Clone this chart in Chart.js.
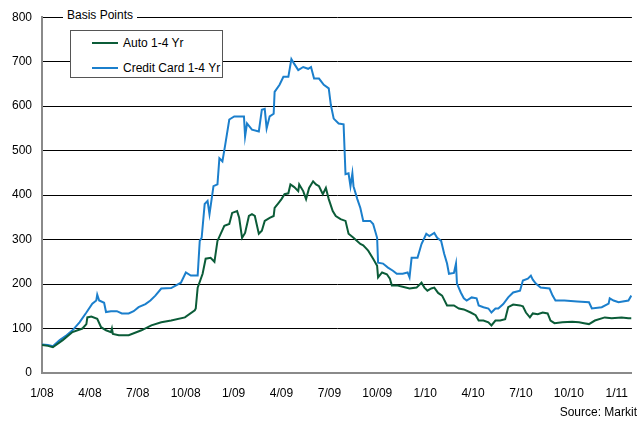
<!DOCTYPE html>
<html>
<head>
<meta charset="utf-8">
<script src="https://cdn.jsdelivr.net/npm/chart.js@4/dist/chart.umd.min.js"></script>
<style>
  body { margin: 0; background: #fff; font-family: "Liberation Sans", Arial, sans-serif; }
  #wrap { position: relative; width: 641px; height: 425px; }
  #unit { position: absolute; left: 63px; top: 7px; background: #fff; padding: 0 4px; font-size: 12px; color: #000; line-height: 16px; }
  #legend { position: absolute; left: 70px; top: 30px; width: 153px; height: 48px; border: 1px solid #555; background: #fff; box-sizing: border-box; font-size: 12px; }
  .row { position: absolute; left: 21px; height: 14px; line-height: 14px; white-space: nowrap; }
  .row i { display: inline-block; width: 26px; height: 2px; vertical-align: middle; margin-right: 5px; position: relative; top: -1px; }
  #source { position: absolute; right: 4px; top: 405px; font-size: 12px; color: #000; }
</style>
</head>
<body>
<div id="wrap">
  <canvas id="chart" width="641" height="425"></canvas>
  <div id="unit">Basis Points</div>
  <div id="legend">
    <div class="row" style="top:5px"><i style="background:#0b5c38"></i>Auto 1-4 Yr</div>
    <div class="row" style="top:30px"><i style="background:#1b7fcc"></i>Credit Card 1-4 Yr</div>
  </div>
  <div id="source">Source: Markit</div>
</div>
<script>
// months since Jan 2008
const tickMonths = [0, 3, 6, 9, 12, 15, 18, 21, 24, 27, 30, 33, 36];
const tickLabels = ['1/08','4/08','7/08','10/08','1/09','4/09','7/09','10/09','1/10','4/10','7/10','10/10','1/11'];

// Auto 1-4 Yr
const autoMonths = [0,0.37,0.68,1.3,1.91,2.53,2.78,2.84,3.09,3.46,3.7,4.01,4.32,4.38,4.44,4.81,5.43,6.23,6.85,7.47,8.09,8.95,9.57,9.63,9.75,10.06,10.25,10.56,10.8,10.99,11.42,11.73,11.91,12.22,12.35,12.53,12.72,12.96,13.15,13.33,13.58,13.77,13.95,14.26,14.51,14.57,14.81,15,15.19,15.43,15.56,15.8,16.05,16.11,16.36,16.54,16.73,16.98,17.16,17.35,17.59,17.78,17.96,18.21,18.4,18.7,19.01,19.2,19.51,19.94,20.12,20.43,20.74,20.99,21.05,21.3,21.6,21.79,21.91,22.22,22.59,23.02,23.46,23.77,23.95,24.14,24.38,24.57,24.81,25.06,25.37,25.8,26.11,26.42,26.85,27.16,27.35,27.65,27.96,28.15,28.4,28.7,29.01,29.2,29.51,29.94,30.12,30.31,30.56,30.74,31.05,31.36,31.67,31.85,32.1,32.59,33.21,33.64,33.95,34.26,34.63,35.25,35.68,36.3,36.73,36.91];
const autoValues = [63,61,58,74,92,100,110,125,127,122,103,96,92,100,88,85,85,96,107,114,118,125,141,145,192,223,257,259,250,297,331,335,360,364,349,304,315,353,357,353,313,320,342,349,353,371,382,391,402,404,424,418,409,424,409,391,416,431,424,420,402,416,391,364,353,346,342,313,304,290,287,275,257,241,215,226,222,212,197,197,194,190,192,203,192,185,190,192,180,174,152,152,145,143,136,130,118,118,114,107,118,118,121,148,154,152,150,136,125,134,132,136,134,118,112,114,115,114,112,110,118,125,123,125,123,123];

// Credit Card 1-4 Yr
const cardMonths = [0,0.37,0.68,1.11,1.54,1.91,2.35,2.78,3.15,3.4,3.46,3.58,3.89,4.01,4.32,4.69,5,5.43,5.74,6.05,6.48,6.79,7.1,7.47,8.09,8.7,9.01,9.32,9.75,9.88,10,10.19,10.37,10.49,10.6,10.74,10.99,11.11,11.3,11.48,11.73,12.04,12.41,12.65,12.72,12.84,13.15,13.58,13.77,13.95,14.07,14.26,14.51,14.57,14.88,15.12,15.43,15.62,15.8,16.05,16.36,16.67,16.85,17.04,17.35,17.65,17.96,18.09,18.27,18.58,18.89,19.01,19.2,19.32,19.44,19.51,19.75,19.94,20.12,20.56,20.74,20.99,21.05,21.36,21.67,21.98,22.22,22.59,22.9,23.02,23.15,23.52,23.77,24.07,24.26,24.57,24.75,25,25.19,25.37,25.49,25.8,25.93,25.99,26.23,26.42,26.6,26.91,27.22,27.35,27.65,27.96,28.15,28.4,28.58,28.89,29.2,29.51,29.94,30.12,30.43,30.62,30.74,30.93,31.23,31.79,31.98,32.16,32.72,33.52,34.26,34.44,35.06,35.49,35.56,35.8,36.11,36.73,36.91];
const cardValues = [64,63,60,74,85,96,114,136,156,163,176,163,158,137,139,139,134,134,139,148,155,163,174,190,191,203,226,219,219,297,304,380,387,357,385,420,424,483,476,514,570,577,577,577,532,561,547,543,592,594,550,577,583,632,648,666,666,706,695,681,688,684,688,662,662,648,640,603,572,561,559,447,449,420,449,420,391,371,342,342,335,304,248,246,237,230,223,223,226,215,259,259,290,313,308,315,304,297,268,246,223,225,246,201,181,168,163,170,168,152,148,145,136,145,145,155,170,181,185,208,212,219,210,201,192,190,174,163,163,161,159,145,148,156,168,163,159,163,174];

const toPoints = (xs, ys) => xs.map((x, i) => ({ x: x, y: ys[i] }));

new Chart(document.getElementById('chart'), {
  type: 'line',
  data: {
    datasets: [
      {
        label: 'Auto 1-4 Yr',
        data: toPoints(autoMonths, autoValues),
        borderColor: '#0b5c38',
        borderWidth: 2,
        pointRadius: 0,
        tension: 0
      },
      {
        label: 'Credit Card 1-4 Yr',
        data: toPoints(cardMonths, cardValues),
        borderColor: '#1b7fcc',
        borderWidth: 2,
        pointRadius: 0,
        tension: 0
      }
    ]
  },
  options: {
    responsive: false,
    animation: false,
    layout: { padding: { top: 15, left: 0, right: 0, bottom: 0 } },
    plugins: { legend: { display: false }, tooltip: { enabled: false } },
    scales: {
      x: {
        type: 'linear',
        min: 0,
        max: 36.95,
        afterBuildTicks: s => { s.ticks = tickMonths.map(v => ({ value: v })); },
        afterFit: s => { s.height = 52; },
        grid: { display: false, drawTicks: false },
        border: { display: true, color: '#8a8a8a', width: 2 },
        ticks: {
          padding: 13,
          maxRotation: 0,
          autoSkip: false,
          color: '#000',
          font: { family: '"Liberation Sans", Arial, sans-serif', size: 12 },
          callback: v => tickLabels[tickMonths.indexOf(v)]
        }
      },
      y: {
        min: 0,
        max: 800,
        afterFit: s => { s.width = 42; },
        grid: {
          drawTicks: false,
          color: c => c.tick.value === 0 ? 'rgba(0,0,0,0)' : '#000',
          lineWidth: 1
        },
        border: { display: true, color: '#8a8a8a', width: 2 },
        ticks: {
          stepSize: 100,
          padding: 10,
          color: '#000',
          font: { family: '"Liberation Sans", Arial, sans-serif', size: 12 }
        }
      }
    }
  }
});
</script>
</body>
</html>
